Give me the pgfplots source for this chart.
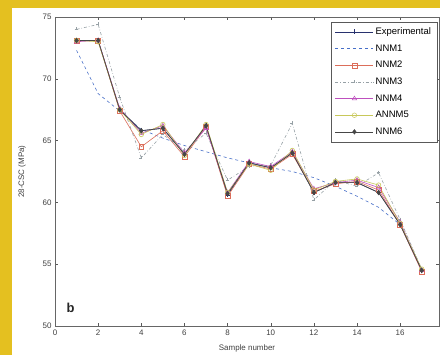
\documentclass[border=0pt]{standalone}
\usepackage{fontspec}
\setmainfont{Liberation Sans}
\usepackage{pgfplots}
\pgfplotsset{compat=1.18}
\definecolor{yframe}{RGB}{228,192,32}
\definecolor{cexp}{RGB}{40,50,110}
\definecolor{cn1}{RGB}{70,110,200}
\definecolor{cn2}{RGB}{220,110,90}
\definecolor{cn3}{RGB}{150,160,165}
\definecolor{cn4}{RGB}{190,80,190}
\definecolor{cn5}{RGB}{200,200,90}
\definecolor{cn6}{RGB}{70,70,70}
\begin{document}
\begin{tikzpicture}[x=1bp,y=1bp]
\useasboundingbox (-55,-29) rectangle (385,326);
\fill[white] (-55,-29) rectangle (385,326);
\fill[yframe] (-55,-29) rectangle (-43,326);
\fill[yframe] (-55,318) rectangle (385,326);
\begin{axis}[
  at={(0,0)}, anchor=south west,
  scale only axis, width=384bp, height=309bp,
  xmin=0, xmax=17.8, ymin=50, ymax=75,
  xtick={0,2,...,16}, ytick={50,55,...,75},
  tick align=inside, major tick length=3bp,
  axis line style={gray!80!black, line width=0.6pt},
  every tick/.style={gray!70!black},
  tick label style={font=\fontsize{8}{9}\selectfont, text=black!75},
  /pgf/number format/assume math mode=true,
  xlabel={Sample number}, ylabel={28-CSC (MPa)},
  label style={font=\fontsize{8}{9}\selectfont, text=black!75},
  xlabel style={at={(axis description cs:0.5,-0.071)}, anchor=center},
  ylabel style={at={(axis description cs:-0.086,0.5)}, anchor=center},
  legend cell align=left,
  legend style={at={(0.995,0.985)}, anchor=north east, font=\fontsize{9.5}{10}\selectfont,
    draw=gray!70!black, row sep=4.6pt, inner sep=4pt},
  legend image code/.code={\draw[mark repeat=2,mark phase=2] plot coordinates {(0bp,0bp)(19bp,0bp)(38bp,0bp)};},
  legend image post style={line width=0.5pt},
]
\addplot[cexp, line width=0.6pt, mark=+, mark size=2.5pt] coordinates {
(1,73.1)(2,73.1)(3,67.5)(4,65.8)(5,66.0)(6,63.9)(7,66.2)(8,60.6)(9,63.2)(10,62.8)(11,64.0)(12,60.8)(13,61.6)(14,61.6)(15,60.8)(16,58.2)(17,54.5)};
\addlegendentry{Experimental}
\addplot[cn1, line width=0.6pt, dashed] coordinates {
(1,72.3)(2,68.8)(3,67.4)(4,65.9)(5,65.2)(6,64.6)(7,64.1)(8,63.6)(9,63.2)(10,62.8)(11,62.5)(12,62.0)(13,61.3)(14,60.5)(15,59.6)(16,58.2)(17,54.6)};
\addlegendentry{NNM1}
\addplot[cn2, line width=0.6pt, mark=square, mark size=2.5pt] coordinates {
(1,73.1)(2,73.1)(3,67.4)(4,64.5)(5,65.8)(6,63.7)(7,66.1)(8,60.5)(9,63.1)(10,62.7)(11,63.9)(12,60.9)(13,61.5)(14,61.7)(15,61.0)(16,58.2)(17,54.4)};
\addlegendentry{NNM2}
\addplot[cn3, line width=0.6pt, dash dot, mark=+, mark size=2pt] coordinates {
(1,74.0)(2,74.4)(3,68.5)(4,63.6)(5,65.5)(6,64.2)(7,65.6)(8,61.8)(9,62.9)(10,63.0)(11,66.4)(12,60.2)(13,61.8)(14,61.3)(15,62.4)(16,58.6)(17,54.6)};
\addlegendentry{NNM3}
\addplot[cn4, line width=0.6pt, mark=triangle, mark size=2.5pt] coordinates {
(1,73.0)(2,73.1)(3,67.6)(4,65.6)(5,66.2)(6,64.0)(7,66.0)(8,60.8)(9,63.3)(10,62.9)(11,64.1)(12,61.1)(13,61.6)(14,61.8)(15,61.2)(16,58.4)(17,54.5)};
\addlegendentry{NNM4}
\addplot[cn5, line width=0.6pt, mark=o, mark size=2.3pt] coordinates {
(1,73.1)(2,73.0)(3,67.5)(4,65.5)(5,66.3)(6,63.8)(7,66.3)(8,60.8)(9,63.1)(10,62.6)(11,64.2)(12,61.0)(13,61.7)(14,61.9)(15,61.4)(16,58.3)(17,54.6)};
\addlegendentry{ANNM5}
\addplot[cn6, line width=0.7pt, mark=diamond*, mark size=2.3pt] coordinates {
(1,73.1)(2,73.1)(3,67.5)(4,65.8)(5,66.0)(6,63.9)(7,66.2)(8,60.7)(9,63.2)(10,62.8)(11,64.0)(12,60.8)(13,61.6)(14,61.6)(15,60.8)(16,58.2)(17,54.5)};
\addlegendentry{NNM6}
\node[font=\bfseries\fontsize{13}{13}\selectfont, text=black!85] at (axis cs:0.72,51.5) {b};
\end{axis}
\end{tikzpicture}
\end{document}
